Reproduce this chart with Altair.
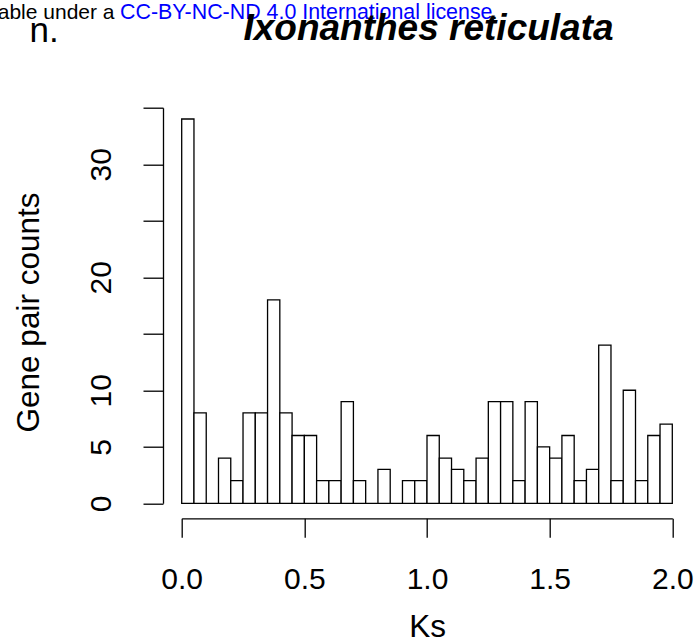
import altair as alt
import pandas as pd

# Histogram bins (Ks) and gene pair counts
bin_start = [0.00, 0.05, 0.10, 0.15, 0.20, 0.25, 0.30, 0.35, 0.40, 0.45,
             0.50, 0.55, 0.60, 0.65, 0.70, 0.75, 0.80, 0.85, 0.90, 0.95,
             1.00, 1.05, 1.10, 1.15, 1.20, 1.25, 1.30, 1.35, 1.40, 1.45,
             1.50, 1.55, 1.60, 1.65, 1.70, 1.75, 1.80, 1.85, 1.90, 1.95]
bin_end = [0.05, 0.10, 0.15, 0.20, 0.25, 0.30, 0.35, 0.40, 0.45, 0.50,
           0.55, 0.60, 0.65, 0.70, 0.75, 0.80, 0.85, 0.90, 0.95, 1.00,
           1.05, 1.10, 1.15, 1.20, 1.25, 1.30, 1.35, 1.40, 1.45, 1.50,
           1.55, 1.60, 1.65, 1.70, 1.75, 1.80, 1.85, 1.90, 1.95, 2.00]
counts = [34, 8, 0, 4, 2, 8, 8, 18, 8, 6,
          6, 2, 2, 9, 2, 0, 3, 0, 2, 2,
          6, 4, 3, 2, 4, 9, 9, 2, 9, 5,
          4, 6, 2, 3, 14, 2, 10, 2, 6, 7]

x_ticks = [0.0, 0.5, 1.0, 1.5, 2.0]
y_ticks = [0, 5, 10, 15, 20, 25, 30, 35]
y_hidden = [15, 25, 35]

title_text = "Ixonanthes reticulata"
panel_label = "n."
license_pre = "able under a"
license_link = "CC-BY-NC-ND 4.0 International license"
license_post = "."

df = pd.DataFrame({"start": bin_start, "end": bin_end, "count": counts})

FONT = "Liberation Sans"
W, H = 490.6, 395.6
PL, PT = 181.7, 107.7

hidden_expr = " || ".join(f"datum.value == {v}" for v in y_hidden)

bars = alt.Chart(df).mark_rect(
    fill="white", stroke="black", strokeWidth=1.3
).encode(
    x=alt.X("start:Q",
            scale=alt.Scale(domain=[0, 2], nice=False, zero=False),
            axis=alt.Axis(values=x_ticks, format=".1f", title="Ks",
                          orient="bottom", offset=15, tickSize=19,
                          labelPadding=51, labelBaseline="alphabetic",
                          labelFontSize=30, labelFont=FONT, labelColor="black",
                          labelFlush=False, labelOverlap=False,
                          titleFontSize=31.5, titleFont=FONT, titleFontWeight="normal",
                          titleColor="black", titleBaseline="alphabetic",
                          titleAlign="center", titleX=W / 2, titleY=118.0,
                          domainColor="black", domainWidth=1.3,
                          tickColor="black", tickWidth=1.3, grid=False)),
    x2="end:Q",
    y=alt.Y("count:Q",
            scale=alt.Scale(domain=[0, 35], nice=False, zero=True),
            axis=alt.Axis(values=y_ticks, title="Gene pair counts",
                          orient="left", offset=18.7, tickSize=20,
                          labelPadding=32.3, labelAngle=270,
                          labelAlign="center", labelBaseline="alphabetic",
                          labelExpr=f"({hidden_expr}) ? '' : datum.label",
                          labelFontSize=30, labelFont=FONT, labelColor="black",
                          labelFlush=False, labelOverlap=False,
                          titleFontSize=31.5, titleFont=FONT, titleFontWeight="normal",
                          titleColor="black", titleAngle=270,
                          titleBaseline="alphabetic", titleAlign="center",
                          titleX=38.5 - 163.0, titleY=312 - PT,
                          domainColor="black", domainWidth=1.3,
                          tickColor="black", tickWidth=1.3, grid=False)),
    y2=alt.datum(0),
)

ann = pd.DataFrame({"t": [0]})

title_mark = alt.Chart(ann).mark_text(
    text=title_text, font=FONT, fontSize=37, fontWeight="bold", fontStyle="italic",
    align="center", baseline="alphabetic", color="black"
).encode(x=alt.value(428.5 - PL), y=alt.value(40 - PT))

panel_mark = alt.Chart(ann).mark_text(
    text=panel_label, font=FONT, fontSize=35, align="left",
    baseline="alphabetic", color="black"
).encode(x=alt.value(29.5 - PL), y=alt.value(41.7 - PT))

lic_pre = alt.Chart(ann).mark_text(
    text=license_pre, font=FONT, fontSize=21, align="right",
    baseline="alphabetic", color="black"
).encode(x=alt.value(114.5 - PL), y=alt.value(19 - PT))

lic_link = alt.Chart(ann).mark_text(
    text=license_link, font=FONT, fontSize=21.4, align="left",
    baseline="alphabetic", color="#0000FF"
).encode(x=alt.value(120 - PL), y=alt.value(19 - PT))

lic_post = alt.Chart(ann).mark_text(
    text=license_post, font=FONT, fontSize=21, align="left",
    baseline="alphabetic", color="black"
).encode(x=alt.value(491.7 - PL), y=alt.value(19 - PT))

chart = alt.layer(bars, lic_pre, lic_link, lic_post, title_mark, panel_mark).properties(
    width=W, height=H,
    padding={"left": PL, "top": PT, "right": 697 - PL - W, "bottom": 643 - PT - H},
    autosize=alt.AutoSizeParams(type="none"),
    background="white",
).configure_view(stroke=None)

chart.save("out.html", embed_options={"renderer": "svg", "actions": False})
